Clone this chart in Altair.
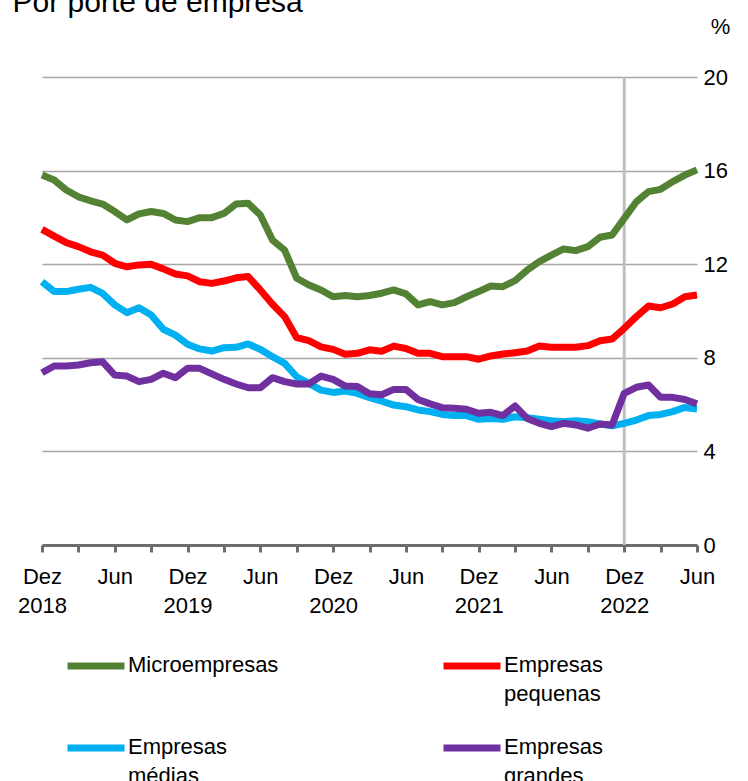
import altair as alt
import pandas as pd

# Monthly rates (%) from Dec 2018 (index 0) to Jun 2023 (index 54)
micro = [15.81, 15.60, 15.17, 14.88, 14.71, 14.57, 14.25, 13.89, 14.15, 14.25,
         14.17, 13.89, 13.82, 13.99, 13.99, 14.17, 14.57, 14.60, 14.10, 13.03,
         12.60, 11.40, 11.11, 10.90, 10.61, 10.66, 10.61, 10.66, 10.76, 10.90,
         10.73, 10.26, 10.40, 10.26, 10.36, 10.61, 10.83, 11.07, 11.04, 11.30,
         11.75, 12.11, 12.39, 12.65, 12.58, 12.75, 13.15, 13.25, 13.96, 14.67,
         15.10, 15.20, 15.53, 15.81, 16.03]
pequenas = [13.49, 13.20, 12.92, 12.75, 12.53, 12.39, 12.04, 11.89, 11.97, 12.00,
            11.80, 11.58, 11.50, 11.25, 11.18, 11.28, 11.42, 11.47, 10.90, 10.29,
            9.76, 8.86, 8.73, 8.47, 8.36, 8.15, 8.19, 8.34, 8.28, 8.50,
            8.40, 8.19, 8.19, 8.05, 8.05, 8.05, 7.94, 8.08, 8.16, 8.22,
            8.29, 8.50, 8.45, 8.45, 8.45, 8.52, 8.73, 8.80, 9.26, 9.76,
            10.21, 10.14, 10.30, 10.61, 10.68]
medias = [11.25, 10.83, 10.83, 10.93, 11.01, 10.75, 10.26, 9.93, 10.14, 9.83,
          9.22, 8.97, 8.58, 8.38, 8.29, 8.43, 8.45, 8.59, 8.36, 8.05,
          7.76, 7.19, 6.91, 6.62, 6.52, 6.58, 6.48, 6.30, 6.15, 5.98,
          5.91, 5.77, 5.70, 5.58, 5.53, 5.53, 5.37, 5.41, 5.37, 5.48,
          5.44, 5.37, 5.31, 5.27, 5.31, 5.27, 5.17, 5.09, 5.20, 5.34,
          5.53, 5.58, 5.70, 5.88, 5.81]
grandes = [7.36, 7.65, 7.65, 7.69, 7.79, 7.83, 7.26, 7.22, 6.98, 7.08,
           7.34, 7.15, 7.55, 7.55, 7.31, 7.08, 6.88, 6.72, 6.72, 7.15,
           6.98, 6.88, 6.88, 7.22, 7.08, 6.79, 6.77, 6.46, 6.42, 6.65,
           6.65, 6.22, 6.03, 5.87, 5.84, 5.80, 5.63, 5.67, 5.53, 5.94,
           5.41, 5.20, 5.06, 5.20, 5.13, 4.99, 5.17, 5.13, 6.48, 6.74,
           6.84, 6.31, 6.31, 6.22, 6.03]

series_names = ["Microempresas", "Empresas pequenas", "Empresas médias", "Empresas grandes"]
series_colors = ["#548235", "#FF0000", "#00B0F0", "#7030A0"]
y_ticks = [0, 4, 8, 12, 16, 20]
x_ticks = list(range(0, 55, 3))
marker_month = [48]  # Dez 2022

frames = []
for name, vals in zip(series_names, [micro, pequenas, medias, grandes]):
    frames.append(pd.DataFrame({"mes": range(len(vals)), "taxa": vals, "porte": name}))
df = pd.concat(frames, ignore_index=True)

x_scale = alt.Scale(domain=[0, 54], nice=False, zero=False)
y_scale = alt.Scale(domain=[0, 20], nice=False)

x_axis = alt.Axis(
    values=x_ticks,
    labelExpr="datum.value % 12 == 0 ? ['Dez', toString(2018 + datum.value / 12)] : "
              "(datum.value % 12 == 6 ? ['Jun'] : '')",
    labelFontSize=22, labelColor="#000000", labelFont="Liberation Sans",
    labelBaseline="top", labelPadding=14, labelLineHeight=29,
    labelOverlap=False, labelFlush=False,
    domainColor="#6d6d6d", domainWidth=3,
    tickColor="#6d6d6d", tickWidth=3, tickSize=7,
    grid=False, title=None,
)
y_axis = alt.Axis(
    orient="right", values=y_ticks,
    labelFontSize=22, labelColor="#000000", labelFont="Liberation Sans",
    labelPadding=6, labelAlign="left",
    ticks=False, domain=False,
    grid=True, gridColor="#a6a6a6", gridWidth=1.5,
    title="%", titleAngle=0, titleFontSize=22, titleFontWeight="normal",
    titleFont="Liberation Sans", titleColor="#000000",
    titleX=23, titleY=-44, titleAlign="center", titleBaseline="alphabetic",
)

marker = alt.Chart(pd.DataFrame({"mes": marker_month})).mark_rule(
    color="#bfbfbf", strokeWidth=3
).encode(
    x=alt.X("mes:Q", scale=x_scale, axis=x_axis),
    y=alt.datum(0, type="quantitative", scale=y_scale, axis=y_axis),
    y2=alt.datum(20),
)

lines = alt.Chart(df).mark_line(strokeWidth=7, strokeJoin="round").encode(
    x=alt.X("mes:Q", scale=x_scale, axis=x_axis),
    y=alt.Y("taxa:Q", scale=y_scale, axis=y_axis),
    color=alt.Color(
        "porte:N",
        scale=alt.Scale(domain=series_names, range=series_colors),
        sort=series_names,
        legend=alt.Legend(
            title=None, orient="none", legendX=22, legendY=546,
            direction="horizontal",
            columns=2, columnPadding=150, rowPadding=0,
            symbolType="M-1,0.39L1,0.39", symbolSize=3249, symbolStrokeWidth=7,
            labelFontSize=22, labelFont="Liberation Sans", labelColor="#000000",
            labelBaseline="top", labelOffset=0, labelLimit=400,
            labelExpr="indexof(datum.label, ' ') > 0 ? split(datum.label, ' ') : [datum.label, ' ']",
        ),
    ),
)

chart = alt.layer(marker, lines).properties(
    width=655, height=468,
    title=alt.TitleParams(
        "Por porte de empresa", anchor="start", fontSize=30, fontWeight="normal",
        font="Liberation Sans", color="#000000", dx=-5, offset=-27,
        baseline="alphabetic",
    ),
    autosize=alt.AutoSizeParams(type="none"),
    padding={"left": 42, "top": 77, "right": 51, "bottom": 236},
).configure(style={"guide-label": {"lineHeight": 29}}).configure_view(stroke=None)

chart.save("out.html", embed_options={"renderer": "svg", "actions": False})
